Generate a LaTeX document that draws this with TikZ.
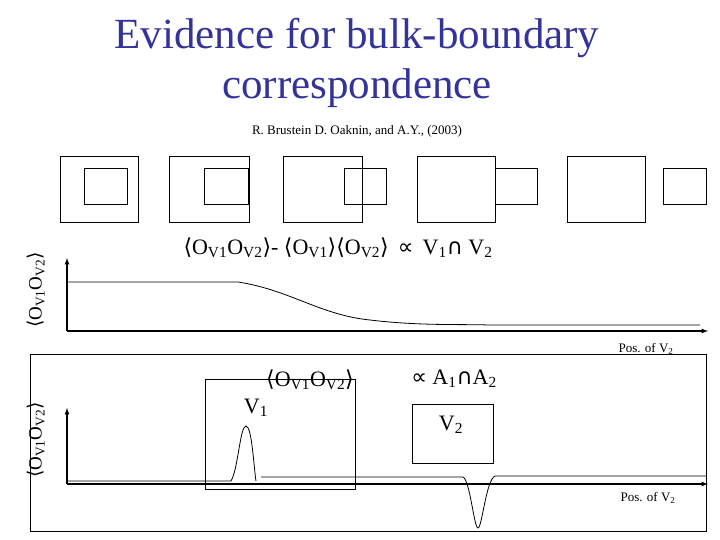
\documentclass[tikz,border=0pt]{standalone}
\usepackage{fontspec}
\setmainfont{Liberation Serif}
\newfontfamily\symf{DejaVu Sans}
\newcommand{\lan}{{\symf ⟨}}
\newcommand{\ran}{{\symf ⟩}}
\definecolor{titleblue}{RGB}{51,51,153}
\begin{document}
\begin{tikzpicture}[x=1pt,y=-1pt,
  bx/.style={draw,line width=0.8pt},
  ax/.style={line width=1.2pt,-latex},
  crv/.style={line width=0.8pt},
  lbl/.style={inner sep=0pt,font=\fontsize{22}{24}\selectfont},
  sml/.style={inner sep=0pt,font=\fontsize{13}{15}\selectfont}]
\useasboundingbox (0,0) rectangle (720,540);
\node[inner sep=0pt,align=center,text=titleblue,font=\fontsize{43}{50}\selectfont] (title) at (357,63) {Evidence for bulk-boundary\\correspondence};
\node[sml] (auth) at (357,131) {R. Brustein D. Oaknin, and A.Y., (2003)};
% boxes
\draw[bx] (60,156) rectangle (138,222); \draw[bx] (84,168) rectangle (127,204);
\draw[bx] (169,156) rectangle (249,222); \draw[bx] (204,168) rectangle (248,204);
\draw[bx] (283,156) rectangle (362,222); \draw[bx] (344,168) rectangle (386,204);
\draw[bx] (417,156) rectangle (495,222); \draw[bx] (495,168) rectangle (537,204);
\draw[bx] (567,156) rectangle (645,222); \draw[bx] (663,168) rectangle (706,204);
% top plot
\coordinate (o1) at (67,331);
\coordinate (ty) at (67,258);
\coordinate (tx) at (708,331);
\draw[ax] (o1) -- (ty);
\draw[ax] (o1) -- (tx);
\draw[crv] (67,282) -- (238,282) .. controls (290,290) and (320,315) .. (370,320) .. controls (420,326) and (460,324) .. (489,325) -- (700,325);
\node[lbl] (f1) at (338,248) {\lan O\textsubscript{V1}O\textsubscript{V2}\ran- \lan O\textsubscript{V1}\ran\lan O\textsubscript{V2}\ran\ \,{\symf ∝}\, V\textsubscript{1}{\symf ∩} V\textsubscript{2}};
\node[sml,rotate=90] (yl1) at (36,290) {\fontsize{19}{21}\selectfont\lan O\textsubscript{V1}O\textsubscript{V2}\ran};
\node[sml] (p1) at (646,349) {Pos. of V\textsubscript{2}};
% bottom frame
\draw[line width=0.4pt] (30,354) rectangle (706,531);
\draw[bx] (205,379) rectangle (355,489);
\draw[bx] (412,404) rectangle (493,463);
\coordinate (o2) at (67,484);
\coordinate (by) at (67,408);
\coordinate (bxe) at (708,484);
\draw[ax] (o2) -- (by);
\draw[ax] (o2) -- (bxe);
\draw[crv] (67,481) -- (231,481) .. controls (238,470) and (240,426) .. (246,426) .. controls (252,426) and (254,470) .. (256,481);
\draw[crv] (261,477) -- (463,477) .. controls (470,480) and (474,528) .. (478,528) .. controls (482,528) and (486,480) .. (495,476) -- (706,476);
\node[lbl] (f2) at (310,380) {\lan O\textsubscript{V1}O\textsubscript{V2}\ran};
\node[lbl] (v1) at (256,408) {V\textsubscript{1}};
\node[lbl] (f3) at (454,379) {{\symf ∝} A\textsubscript{1}{\symf ∩}A\textsubscript{2}};
\node[lbl] (v2) at (451,425) {V\textsubscript{2}};
\node[sml,rotate=90] (yl2) at (36,440) {\fontsize{19}{21}\selectfont\lan O\textsubscript{V1}O\textsubscript{V2}\ran};
\node[sml] (p2) at (648,498) {Pos. of V\textsubscript{2}};
\end{tikzpicture}
\end{document}
